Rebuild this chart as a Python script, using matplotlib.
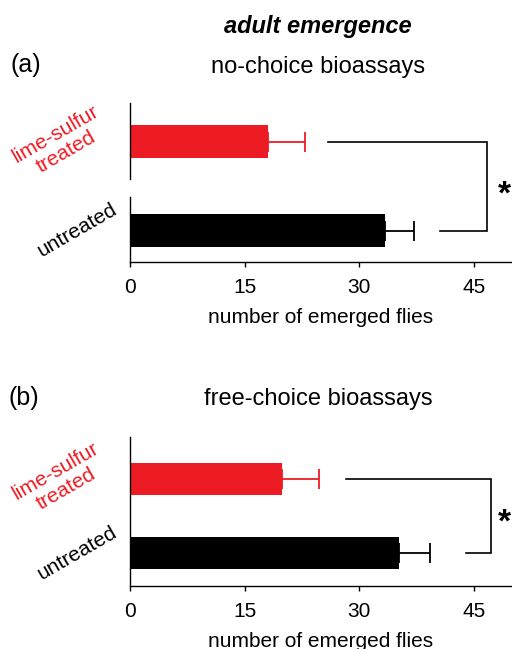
import matplotlib.pyplot as plt

plt.rcParams['font.family'] = ['Liberation Sans', 'DejaVu Sans']

# data
groups = ['untreated', 'lime-sulfur\ntreated']
nochoice_mean = [33.4, 18.0]
nochoice_err = [3.8, 4.9]
freechoice_mean = [35.2, 19.9]
freechoice_err = [4.1, 4.9]
xticks = [0, 15, 30, 45]

RED = '#ED1C24'
colors = ['black', RED]

W, H = 512, 649
fig = plt.figure(figsize=(W / 100, H / 100), dpi=100)


def px_axes(left, top, right, bottom):
    return fig.add_axes([left / W, 1 - bottom / H, (right - left) / W, (bottom - top) / H])


def panel(ax, mean, err, ylim, bar_h, bracket, star_y, broken=None):
    ypos = [0, 1]
    ax.barh(ypos, mean, height=bar_h, color=colors, edgecolor='none')
    for y, m, e, c in zip(ypos, mean, err, colors):
        ax.errorbar(m, y, xerr=[[0], [e]], fmt='none', ecolor=c, elinewidth=1.3,
                    capsize=7, capthick=1.3)
    ax.set_xlim(0, 50)
    ax.set_ylim(*ylim)
    ax.set_xticks(xticks)
    ax.set_yticks([])
    ax.tick_params(axis='x', direction='out', length=3.5, width=1, labelsize=15, pad=8)
    for s in ['top', 'right']:
        ax.spines[s].set_visible(False)
    ax.spines['bottom'].set_linewidth(1)
    if broken:
        ax.spines['left'].set_visible(False)
        ax.plot([0, 0], [ylim[0], broken[0]], color='black', lw=1, clip_on=False)
        ax.plot([0, 0], [broken[1], ylim[1]], color='black', lw=1, clip_on=False)
    else:
        ax.spines['left'].set_linewidth(1)
    ax.set_xlabel('number of emerged flies', fontsize=15, labelpad=8)

    # group labels
    ax.annotate(groups[0], xy=(0, 0), xytext=(-38, 0), textcoords='offset points',
                ha='center', va='center', rotation=30, fontsize=15, color='black')
    ax.annotate(groups[1], xy=(0, 1), xytext=(-50, -1), textcoords='offset points',
                ha='center', va='center', rotation=30, fontsize=15, color=RED,
                multialignment='center', linespacing=1.15)

    # significance bracket
    top_start, bot_start, bx = bracket
    ax.plot([top_start, bx, bx, bot_start], [1, 1, 0, 0], color='black', lw=1.2,
            clip_on=False, solid_joinstyle='miter')
    ax.text(49.0, star_y, '*', fontsize=24, fontweight='bold', ha='center', va='center')


ax_a = px_axes(130, 103, 512, 262)
panel(ax_a, nochoice_mean, nochoice_err, (-0.354, 1.433), 0.37,
      (25.9, 40.6, 46.7), 0.40, broken=(0.376, 0.579))

ax_b = px_axes(130, 437, 512, 586)
panel(ax_b, freechoice_mean, freechoice_err, (-0.437, 1.559), 0.43,
      (28.3, 44.0, 47.3), 0.40)

fig.text(318 / W, 1 - 27 / H, 'adult emergence', fontsize=17, fontweight='bold',
         fontstyle='italic', ha='center', va='center')
fig.text(26 / W, 1 - 65 / H, '(a)', fontsize=18, ha='center', va='center')
fig.text(318 / W, 1 - 67 / H, 'no-choice bioassays', fontsize=17, ha='center', va='center')
fig.text(24 / W, 1 - 398 / H, '(b)', fontsize=18, ha='center', va='center')
fig.text(318 / W, 1 - 399 / H, 'free-choice bioassays', fontsize=17, ha='center', va='center')

fig.savefig('out.png', dpi=100)
